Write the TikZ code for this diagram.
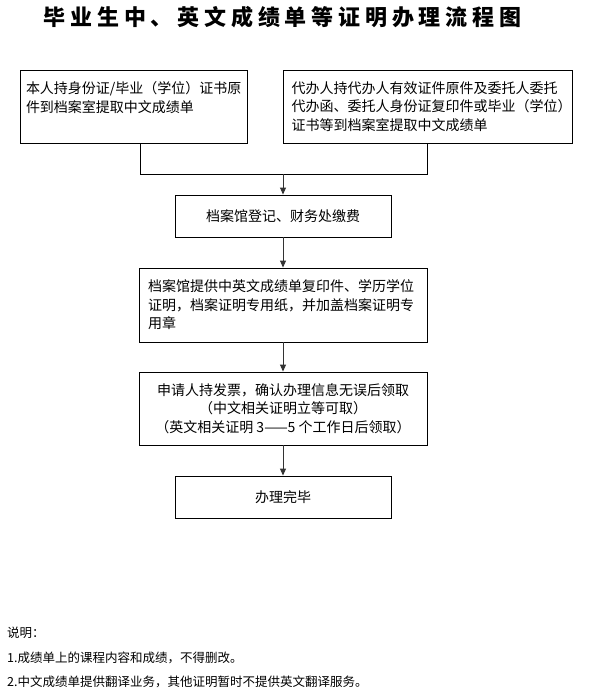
\documentclass[tikz,border=0pt]{standalone}
\usepackage{fontspec}
\setmainfont{Noto Sans CJK SC}
\usetikzlibrary{arrows.meta}
\newcommand\spacedtitle[1]{\spacedloop#1\relax}
\def\spacedloop#1{\ifx\relax#1\else\makebox[26.8pt]{#1}\expandafter\spacedloop\fi}
\begin{document}
\begin{tikzpicture}[x=1pt,y=-1pt,
  box/.style={draw=black,line width=0.9pt,inner ysep=0pt,font=\fontsize{14}{18.5}\selectfont},
  lbox/.style={box,align=left},
  cbox/.style={box,align=center,inner xsep=0pt},
  arr/.style={draw=black!80,line width=0.9pt,-{Triangle[length=7pt,width=6pt]}},
  con/.style={draw=black,line width=0.9pt},
  note/.style={anchor=west,inner sep=0pt,font=\fontsize{12.5}{15}\selectfont}]
\useasboundingbox (0,0) rectangle (592,694);
\fill[white] (0,0) rectangle (592,694);
\node[inner sep=0pt,font=\fontsize{22}{24}\selectfont\bfseries] (title) at (282.5,17) {\spacedtitle{毕业生中、英文成绩单等证明办理流程图}};
\node[lbox,text width=215pt,inner xsep=6pt,minimum height=73pt] (b1) at (133.5,106.5)
  {本人持身份证/毕业（学位）证书原\\件到档案室提取中文成绩单\\ \mbox{}};
\node[lbox,text width=272pt,inner xsep=8.5pt,minimum height=73pt] (b2) at (427.5,106.5)
  {代办人持代办人有效证件原件及委托人委托\\代办函、委托人身份证复印件或毕业（学位）\\证书等到档案室提取中文成绩单};
\node[cbox,minimum width=216pt,minimum height=42pt] (b3) at (283,216) {档案馆登记、财务处缴费};
\node[lbox,text width=270pt,inner xsep=9pt,minimum height=74pt] (b4) at (283,305)
  {档案馆提供中英文成绩单复印件、学历学位\\证明，档案证明专用纸，并加盖档案证明专\\用章};
\node[cbox,minimum width=288pt,minimum height=73pt] (b5) at (283,408.5)
  {申请人持发票，确认办理信息无误后领取\\（中文相关证明立等可取）\\（英文相关证明 3——5 个工作日后领取）};
\node[cbox,minimum width=216pt,minimum height=42pt] (b6) at (283,497) {办理完毕};
\coordinate (jl) at (140,174);
\coordinate (jm) at (283,174);
\coordinate (jr) at (427.5,174);
\draw[con] (b1.south -| jl) -- (jl) -- (jr) -- (b2.south);
\draw[arr] (jm) -- (b3.north);
\draw[arr] (b3.south) -- (b4.north);
\draw[arr] (b4.south) -- (b5.north);
\draw[arr] (b5.south) -- (b6.north);
\node[note] (n0) at (7,633) {说明：};
\node[note] (n1) at (7,658) {1.成绩单上的课程内容和成绩，不得删改。};
\node[note] (n2) at (7,682) {2.中文成绩单提供翻译业务，其他证明暂时不提供英文翻译服务。};
\end{tikzpicture}
\end{document}
